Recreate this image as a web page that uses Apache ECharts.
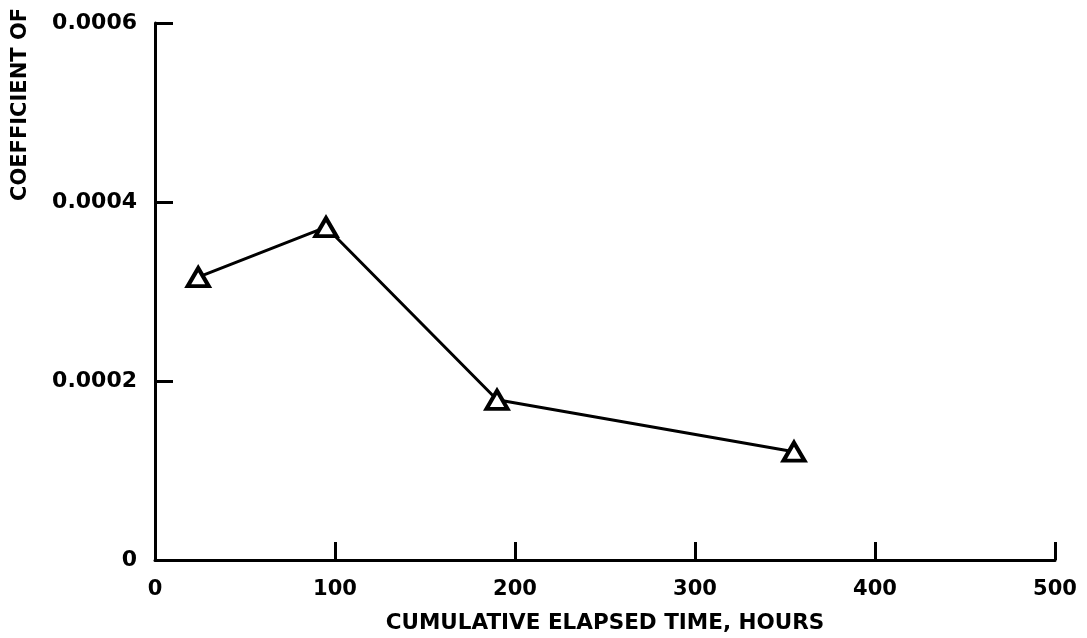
<!DOCTYPE html>
<html>
<head>
<meta charset="utf-8">
<script src="https://cdn.jsdelivr.net/npm/echarts@6/dist/echarts.min.js"></script>
<style>
  html, body { margin: 0; padding: 0; background: #fff; }
  #chart { width: 1087px; height: 638px; }
</style>
</head>
<body>
<div id="chart"></div>
<script>
// Elapsed time (hours) and measured coefficient values
const elapsedHours = [24, 95, 190, 355];
const coefficient = [0.000316, 0.000372, 0.000179, 0.000121];
const xTicks = [0, 100, 200, 300, 400, 500];
const yTicks = [0, 0.0002, 0.0004, 0.0006];
const xTitle = 'CUMULATIVE ELAPSED TIME, HOURS';
const yTitle = 'COEFFICIENT OF';

const chart = echarts.init(document.getElementById('chart'));
const ink = '#000';

chart.setOption({
  backgroundColor: '#fff',
  animation: false,
  grid: { left: 155, right: 32, top: 23, bottom: 78, containLabel: false, outerBoundsMode: 'none' },
  xAxis: {
    type: 'value',
    min: xTicks[0],
    max: xTicks[xTicks.length - 1],
    interval: xTicks[1] - xTicks[0],
    name: xTitle,
    nameLocation: 'middle',
    nameGap: 52,
    nameTextStyle: { color: ink, fontFamily: 'DejaVu Sans', fontWeight: 'bold', fontSize: 21.5 },
    axisLine: { show: true, onZero: false, lineStyle: { color: ink, width: 3 } },
    axisTick: { show: true, inside: true, length: 18, lineStyle: { color: ink, width: 3 } },
    axisLabel: { margin: 19, color: ink, fontFamily: 'DejaVu Sans', fontWeight: 'bold', fontSize: 21 },
    splitLine: { show: false }
  },
  yAxis: {
    type: 'value',
    min: yTicks[0],
    max: yTicks[yTicks.length - 1],
    interval: yTicks[1] - yTicks[0],
    axisLine: { show: true, onZero: false, lineStyle: { color: ink, width: 3 } },
    axisTick: { show: true, inside: true, length: 18, lineStyle: { color: ink, width: 3 } },
    axisLabel: {
      margin: 18,
      color: ink,
      fontFamily: 'DejaVu Sans',
      fontWeight: 'bold',
      fontSize: 22,
      formatter: v => (v === 0 ? '0' : v.toFixed(4))
    },
    splitLine: { show: false }
  },
  graphic: [{
    type: 'text',
    x: 21,
    y: 201,
    rotation: Math.PI / 2,
    style: {
      text: yTitle,
      fill: ink,
      font: 'bold 21px "DejaVu Sans"',
      textAlign: 'left',
      textVerticalAlign: 'middle'
    }
  }],
  series: [{
    type: 'line',
    data: elapsedHours.map((h, i) => [h, coefficient[i]]),
    lineStyle: { color: ink, width: 3 },
    symbol: 'triangle',
    symbolSize: [21, 18],
    showAllSymbol: true,
    itemStyle: { color: '#fff', borderColor: ink, borderWidth: 4 },
    z: 3
  }]
});
</script>
</body>
</html>
